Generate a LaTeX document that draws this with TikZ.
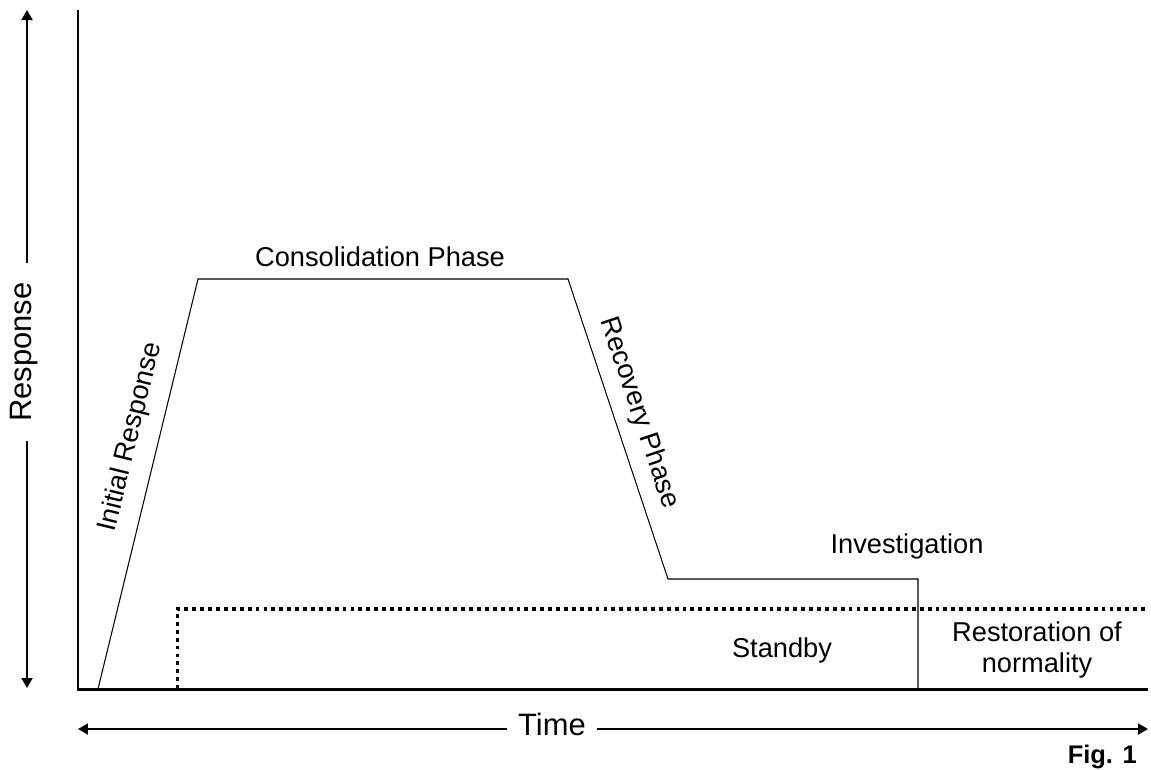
\documentclass[tikz,border=0pt]{standalone}
\usepackage{fontspec}
\setmainfont{Liberation Sans}
\usetikzlibrary{arrows.meta,positioning}

\begin{document}
\begin{tikzpicture} [x=0.02cm,y=-0.02cm,
	axis line/.style={line width=1.7pt},
	phase line/.style={line width=0.6pt},
	standby line/.style={line width=2.2pt,dash pattern=on 2.2pt off 2.3pt},
	axis arrow/.style={line width=1.1pt,-{Triangle[length=0.2cm,width=0.22cm]}},
	phase label/.style={font=\fontsize{15.5}{17.6}\selectfont,inner sep=0pt,anchor=base},
	axis label/.style={font=\fontsize{17.6}{20}\selectfont,inner ysep=0pt}]

	\useasboundingbox (0,0) rectangle (1151,769);

	% axes
	\coordinate (ytop) at (78,10);
	\coordinate (orig) at (78,689);
	\coordinate (xend) at (1148,689);
	\draw[axis line] (ytop) -- (orig) -- (xend);

	% response curve
	\coordinate (p0) at (98,689);
	\coordinate (p1) at (198,279);
	\coordinate (p2) at (568,279);
	\coordinate (p3) at (668,579);
	\coordinate (p4) at (918,579);
	\coordinate (p5) at (918,689);
	\draw[phase line] (p0) -- (p1) -- (p2) -- (p3) -- (p4) -- (p5);

	% standby level
	\coordinate (s0) at (177.5,689);
	\coordinate (s1) at (177.5,609);
	\coordinate (s2) at (1148,609);
	\draw[standby line] (s0) -- (s1) -- (s2);

	% labels
	\node[phase label] (consol) at (380,266) {Consolidation Phase};
	\node[phase label,anchor=center,rotate=76.3] (initial) at (131,437) {Initial Response};
	\node[phase label,anchor=center,rotate=-71.5] (recovery) at (639,413) {Recovery Phase};
	\node[phase label] (invest) at (907,553) {Investigation};
	\node[phase label] (standby) at (782,657) {Standby};
	\node[phase label,align=center,anchor=center] (restore) at (1037,650) {Restoration of\\normality};

	% response axis arrow
	\coordinate (rtop) at (27,10);
	\coordinate (rbot) at (27,688);
	\node[axis label,rotate=90,inner xsep=0.38cm] (resp) at (24,352) {Response};
	\draw[axis arrow] (resp.east -| rtop) -- (rtop);
	\draw[axis arrow] (resp.west -| rbot) -- (rbot);

	% time axis arrow
	\coordinate (tleft) at (78,729);
	\coordinate (tright) at (1148,729);
	\node[axis label,inner xsep=0.21cm] (time) at (552,724.5) {Time};
	\draw[axis arrow] (time.west |- tleft) -- (tleft);
	\draw[axis arrow] (time.east |- tright) -- (tright);

	\node[font=\fontsize{14.5}{17}\bfseries,anchor=base east,inner sep=0pt] (fig) at (1137,763) {Fig. 1};
\end{tikzpicture}
\end{document}
